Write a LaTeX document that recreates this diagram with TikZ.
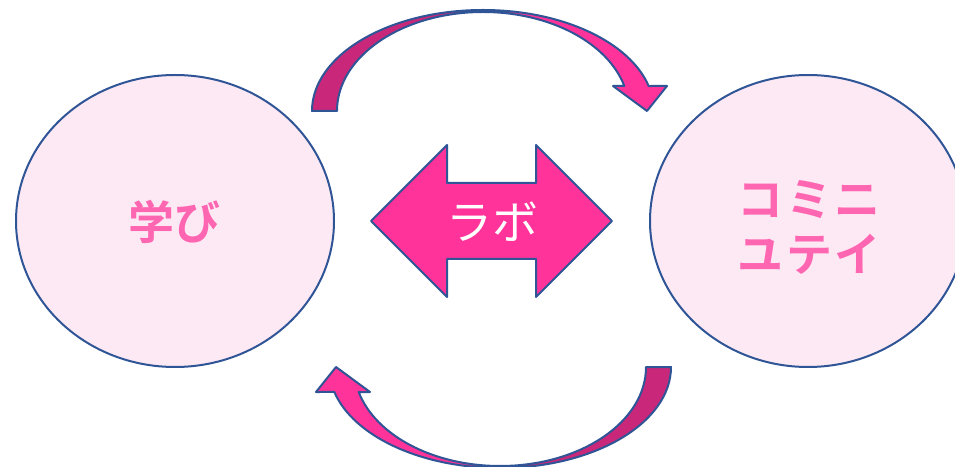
\documentclass[tikz,border=0pt]{standalone}
\usepackage{fontspec}
\usetikzlibrary{shapes.geometric}
\newfontfamily\cjk{Noto Sans CJK JP}
\newfontfamily\cjkb{Noto Sans CJK JP Bold}
\definecolor{edge}{HTML}{2F5597}
\definecolor{bub}{HTML}{FDE9F4}
\definecolor{txt}{HTML}{FF66B2}
\definecolor{hot}{HTML}{FF3399}
\definecolor{deep}{HTML}{C9287A}
\tikzset{
  bubble/.style={draw=edge, line width=2pt, fill=bub, ellipse, inner sep=0pt},
  band/.style={draw=edge, line width=2pt, line join=round},
  lbl/.style={text=txt, font=\cjkb\fontsize{46}{55}\selectfont, align=center},
}
\newcommand{\curvedarrow}{%
  \fill[deep, band] (312pt,355pt) arc[start angle=180, end angle=90, x radius=171pt, y radius=101pt]
     -- (483pt,454pt) arc[start angle=90, end angle=180, x radius=146pt, y radius=99pt] -- cycle;
  \fill[hot, band] (483pt,456pt) arc[start angle=90, end angle=14.33, x radius=171pt, y radius=101pt]
     -- (667pt,380pt) -- (647pt,355pt) -- (613pt,380pt) -- (624.3pt,380pt)
     arc[start angle=14.63, end angle=90, x radius=146pt, y radius=99pt] -- cycle;
}
\begin{document}
\begin{tikzpicture}[x=1pt,y=1pt]
\useasboundingbox (0,0) rectangle (955,466);
\clip (0,0) rectangle (955,466);
\node[bubble, minimum width=318pt, minimum height=292pt] (manabi) at (175,245) {};
\node[bubble, minimum width=316pt, minimum height=292pt] (comm) at (808,245) {};
\node[lbl] (t1) at (174,244) {学び};
\node[lbl] (t2) at (809,239) {コ\hspace{3pt}ミ\hspace{3pt}ニ\\ユ\hspace{3pt}テ\hspace{3pt}イ};
\draw[band, fill=hot] (371,245) -- (447,321) -- (447,283) -- (536,283) -- (536,321)
  -- (612,245) -- (536,169) -- (536,207) -- (447,207) -- (447,169) -- cycle;
\node[text=white, font=\cjk\fontsize{46}{50}\selectfont] (lab) at (492,244) {ラボ};
\begin{scope}
\curvedarrow
\end{scope}
\begin{scope}[rotate around={180:(491.5,227)}]
\curvedarrow
\end{scope}
\end{tikzpicture}
\end{document}
